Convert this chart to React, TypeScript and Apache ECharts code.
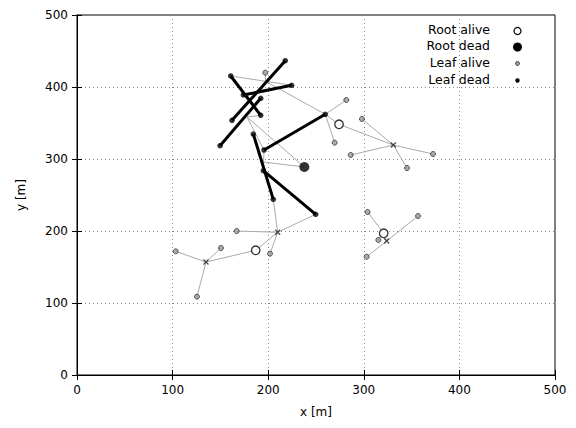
import React, { useEffect, useRef } from "react";
import * as echarts from "echarts";

const X_TICKS = [0, 100, 200, 300, 400, 500];
const Y_TICKS = [0, 100, 200, 300, 400, 500];

const rootAlive: number[][] = [
  [274.1, 348.2],
  [186.9, 173.2],
  [320.8, 196.8],
];
const rootDead: number[][] = [[237.8, 288.9]];

const leafAlive: number[][] = [
  [197.0, 419.9],
  [281.7, 381.9],
  [269.5, 322.7],
  [298.1, 355.6],
  [286.3, 305.6],
  [372.4, 306.9],
  [345.2, 287.5],
  [167.0, 200.0],
  [201.9, 168.5],
  [150.6, 176.4],
  [103.2, 171.8],
  [125.5, 108.8],
  [304.0, 226.4],
  [356.7, 220.8],
  [303.0, 164.3],
  [315.2, 187.5],
];

// dead segments (thick), endpoints are dead leaves
const deadSegments: number[][][] = [
  [[160.8, 415.3], [192.2, 360.7]],
  [[217.9, 436.5], [162.1, 353.8]],
  [[174.0, 388.9], [224.6, 402.4]],
  [[192.2, 384.3], [149.6, 318.5]],
  [[259.7, 362.1], [195.6, 312.5]],
  [[184.4, 334.7], [205.3, 244.0]],
  [[194.9, 283.8], [249.7, 223.2]],
];

const junctions: number[][] = [
  [330.9, 319.4],
  [209.9, 198.2],
  [134.9, 156.9],
  [323.9, 186.1],
];

// thin grey connections
const links: number[][][] = [
  [[160.8, 415.3], [224.6, 402.4]],
  [[197.0, 419.9], [197.0, 408.0]],
  [[196.7, 408.3], [259.7, 362.1]],
  [[259.7, 362.1], [281.7, 381.9]],
  [[259.7, 362.1], [274.1, 348.2]],
  [[259.7, 362.1], [269.5, 322.7]],
  [[274.1, 348.2], [330.9, 319.4]],
  [[330.9, 319.4], [298.1, 355.6]],
  [[330.9, 319.4], [286.3, 305.6]],
  [[330.9, 319.4], [372.4, 306.9]],
  [[330.9, 319.4], [345.2, 287.5]],
  [[177.8, 358.3], [237.8, 288.9]],
  [[177.8, 358.3], [192.2, 360.7]],
  [[177.8, 358.3], [195.6, 312.5]],
  [[195.6, 312.5], [194.9, 283.8]],
  [[193.5, 296.0], [237.8, 288.9]],
  [[205.3, 244.0], [209.9, 198.2]],
  [[209.9, 198.2], [249.7, 223.2]],
  [[209.9, 198.2], [167.0, 200.0]],
  [[209.9, 198.2], [201.9, 168.5]],
  [[209.9, 198.2], [186.9, 173.2]],
  [[186.9, 173.2], [134.9, 156.9]],
  [[134.9, 156.9], [150.6, 176.4]],
  [[134.9, 156.9], [103.2, 171.8]],
  [[134.9, 156.9], [125.5, 108.8]],
  [[304.0, 226.4], [320.8, 196.8]],
  [[320.8, 196.8], [323.9, 186.1]],
  [[323.9, 186.1], [356.7, 220.8]],
  [[323.9, 186.1], [303.0, 164.3]],
  [[320.8, 196.8], [315.2, 187.5]],
];

const LEGEND_LABELS = ["Root alive", "Root dead", "Leaf alive", "Leaf dead"];
const X_NAME = "x [m]";
const Y_NAME = "y [m]";

const FONT = "DejaVu Sans";

export default function App() {
  const ref = useRef<HTMLDivElement>(null);
  useEffect(() => {
    if (!ref.current) return;
    const chart = echarts.init(ref.current, null, { renderer: "svg" });
    const leafDead: number[][] = [];
    deadSegments.forEach((s) => {
      leafDead.push(s[0], s[1]);
    });
    const axisCommon = {
      min: 0,
      max: 500,
      interval: 100,
      axisLine: { show: true, lineStyle: { color: "#000", width: 1 } },
      axisTick: { show: true, inside: true, length: 5, lineStyle: { color: "#000" } },
    };
    const legendY = [31, 47, 63.5, 80.5];
    const legendSym = [
      { r: 3.5, fill: "#fff", stroke: "#000", lw: 1.2 },
      { r: 4.5, fill: "#000", stroke: "#000", lw: 0 },
      { r: 2, fill: "#999", stroke: "#333", lw: 0.9 },
      { r: 2.2, fill: "#000", stroke: "#000", lw: 0 },
    ];
    const graphics: any[] = [];
    LEGEND_LABELS.forEach((t, i) => {
      graphics.push({
        type: "text",
        right: 86,
        top: legendY[i] - 8,
        style: { text: t, fontFamily: FONT, fontSize: 12.5, fill: "#000" },
        z: 100,
      });
      const s = legendSym[i];
      graphics.push({
        type: "circle",
        shape: { cx: 517.5, cy: legendY[i], r: s.r },
        style: { fill: s.fill, stroke: s.stroke, lineWidth: s.lw },
        z: 100,
      });
    });

    chart.setOption({
      animation: false,
      grid: {
        left: 77,
        right: 21,
        top: 15,
        bottom: 53,
        show: true,
        borderColor: "#000",
        borderWidth: 1,
      },
      xAxis: [
        {
          ...axisCommon,
          type: "value",
          position: "bottom",
          name: X_NAME,
          nameLocation: "middle",
          nameGap: 31,
          nameTextStyle: { fontFamily: FONT, fontSize: 12, color: "#000" },
          axisLabel: {
            fontFamily: FONT,
            fontSize: 12,
            color: "#000",
            margin: 9,
            customValues: X_TICKS,
          },
          splitLine: { show: true, lineStyle: { color: "#888", type: [1, 3], width: 1 } },
        },
        {
          ...axisCommon,
          type: "value",
          position: "top",
          axisLabel: { show: false },
          splitLine: { show: false },
        },
      ],
      yAxis: [
        {
          ...axisCommon,
          type: "value",
          position: "left",
          name: Y_NAME,
          nameLocation: "middle",
          nameGap: 50,
          nameTextStyle: { fontFamily: FONT, fontSize: 12, color: "#000" },
          axisLabel: {
            fontFamily: FONT,
            fontSize: 12,
            color: "#000",
            margin: 9,
            customValues: Y_TICKS,
          },
          splitLine: { show: true, lineStyle: { color: "#888", type: [1, 3], width: 1 } },
        },
        {
          ...axisCommon,
          type: "value",
          position: "right",
          axisLabel: { show: false },
          splitLine: { show: false },
        },
      ],
      graphic: graphics,
      series: [
        {
          type: "lines",
          coordinateSystem: "cartesian2d",
          z: 2,
          silent: true,
          lineStyle: { color: "#aaa", width: 1, opacity: 1 },
          data: links.map((c) => ({ coords: c })),
        },
        {
          type: "lines",
          coordinateSystem: "cartesian2d",
          z: 3,
          silent: true,
          lineStyle: { color: "#000", width: 3, opacity: 1 },
          data: deadSegments.map((c) => ({ coords: c })),
        },
        {
          name: "Junction",
          type: "scatter",
          z: 4,
          symbol: "path://M0 0L10 10M0 10L10 0",
          symbolSize: 5,
          itemStyle: { color: "none", borderColor: "#222", borderWidth: 1.3 },
          data: junctions,
        },
        {
          name: LEGEND_LABELS[3],
          type: "scatter",
          z: 5,
          symbol: "circle",
          symbolSize: 5.5,
          itemStyle: { color: "#000" },
          data: leafDead,
        },
        {
          name: LEGEND_LABELS[2],
          type: "scatter",
          z: 5,
          symbol: "circle",
          symbolSize: 5,
          itemStyle: { color: "#999", borderColor: "#333", borderWidth: 1 },
          data: leafAlive,
        },
        {
          name: LEGEND_LABELS[0],
          type: "scatter",
          z: 6,
          symbol: "circle",
          symbolSize: 8.5,
          itemStyle: { color: "#fff", borderColor: "#000", borderWidth: 1.3 },
          data: rootAlive,
        },
        {
          name: LEGEND_LABELS[1],
          type: "scatter",
          z: 6,
          symbol: "circle",
          symbolSize: 10,
          itemStyle: { color: "#000" },
          data: rootDead,
        },
      ],
    });
    return () => chart.dispose();
  }, []);
  return <div ref={ref} style={{ width: 576, height: 428, position: "absolute", left: 0, top: 0 }} />;
}
